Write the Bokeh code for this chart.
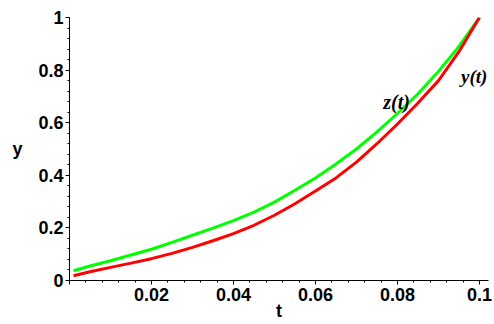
from bokeh.plotting import figure
from bokeh.models import Range1d, FixedTicker, Label
from bokeh.embed import file_html
from bokeh.resources import INLINE

# ---- data ----
t_vals = [0.001, 0.005, 0.01, 0.015, 0.02, 0.025, 0.03, 0.035, 0.04, 0.045, 0.05,
          0.055, 0.06, 0.065, 0.07, 0.075, 0.08, 0.085, 0.09, 0.095, 0.1]
y_vals = [0.018, 0.033, 0.05, 0.066, 0.083, 0.103, 0.126, 0.151, 0.178, 0.21, 0.248,
          0.292, 0.34, 0.39, 0.45, 0.52, 0.595, 0.675, 0.76, 0.87, 1.0]
z_vals = [0.037, 0.055, 0.075, 0.097, 0.119, 0.145, 0.172, 0.199, 0.228, 0.26, 0.298,
          0.343, 0.39, 0.443, 0.50, 0.565, 0.635, 0.71, 0.795, 0.89, 1.0]

x_ticks = [0, 0.02, 0.04, 0.06, 0.08, 0.1]
x_tick_labels = ["", "0.02", "0.04", "0.06", "0.08", "0.1"]
y_ticks = [0, 0.2, 0.4, 0.6, 0.8, 1.0]
y_tick_labels = ["0", "0.2", "0.4", "0.6", "0.8", "1"]

x_label = "t"
y_label = "y"
curve_names = ["y(t)", "z(t)"]

TICK_FONT = "Liberation Sans"

p = figure(width=494, height=324,
           x_range=Range1d(0, 0.1022), y_range=Range1d(0, 1),
           output_backend="svg", toolbar_location=None,
           min_border_left=69, min_border_right=6,
           min_border_top=17, min_border_bottom=44)
p.outline_line_color = None
p.xgrid.visible = False
p.ygrid.visible = False
p.background_fill_color = "white"
p.border_fill_color = "white"

p.xaxis.ticker = FixedTicker(ticks=x_ticks,
                             minor_ticks=[i * 0.004 for i in range(26)])
p.yaxis.ticker = FixedTicker(ticks=y_ticks,
                             minor_ticks=[i * 0.04 for i in range(26)])
p.xaxis.major_label_overrides = dict(zip(x_ticks, x_tick_labels))
p.yaxis.major_label_overrides = dict(zip(y_ticks, y_tick_labels))

for ax in (p.xaxis[0], p.yaxis[0]):
    ax.axis_line_color = "black"
    ax.axis_line_width = 1
    ax.major_tick_line_color = "black"
    ax.minor_tick_line_color = "black"
    ax.major_tick_in = 0
    ax.major_tick_out = 4
    ax.minor_tick_in = 0
    ax.minor_tick_out = 2
    ax.major_label_text_font = TICK_FONT
    ax.major_label_text_font_style = "bold"
    ax.major_label_text_font_size = "18px"
    ax.major_label_text_color = "black"
    ax.axis_label_text_font = TICK_FONT
    ax.axis_label_text_font_style = "bold"
    ax.axis_label_text_font_size = "18px"
    ax.axis_label_text_color = "black"
p.xaxis.major_label_standoff = 3
p.yaxis.major_label_standoff = 2

p.xaxis.axis_label = x_label
p.xaxis.axis_label_standoff = -3
p.yaxis.axis_label = y_label
p.yaxis.axis_label_orientation = "horizontal"
p.yaxis.axis_label_standoff = 13

p.line(t_vals, z_vals, line_color="#00ff00", line_width=3)
p.line(t_vals, y_vals, line_color="#ff0000", line_width=3)

# curve labels
p.add_layout(Label(x=0.0798, y=0.68, text=curve_names[1],
                   text_font="Liberation Serif", text_font_style="bold italic",
                   text_font_size="20px", text_align="center",
                   text_baseline="middle", text_color="black"))
p.add_layout(Label(x=0.0987, y=0.775, text=curve_names[0],
                   text_font="Liberation Serif", text_font_style="bold italic",
                   text_font_size="19px", text_align="center",
                   text_baseline="middle", text_color="black"))

open("out.html", "w").write(file_html(p, INLINE))
